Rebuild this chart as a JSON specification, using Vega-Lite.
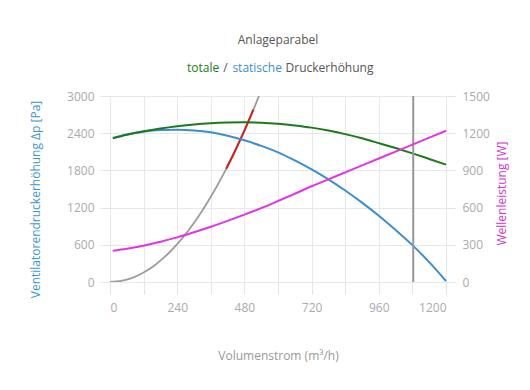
{
  "$schema": "https://vega.github.io/schema/vega-lite/v6.json",
  "width": 336,
  "height": 186,
  "autosize": {"type": "none"},
  "padding": {"left": 110, "top": 96, "right": 84, "bottom": 108},
  "background": "white",
  "title": {
    "text": "Anlageparabel",
    "frame": "group",
    "anchor": "middle",
    "baseline": "alphabetic",
    "offset": 6,
    "font": "Open Sans",
    "fontSize": 12,
    "fontWeight": "normal",
    "color": "#555555"
  },
  "datasets": {
    "statische": [
      {"q": 10, "dp": 2320}, {"q": 60, "dp": 2380}, {"q": 120, "dp": 2425}, {"q": 180, "dp": 2450},
      {"q": 240, "dp": 2455}, {"q": 300, "dp": 2445}, {"q": 360, "dp": 2415}, {"q": 420, "dp": 2360},
      {"q": 480, "dp": 2285}, {"q": 540, "dp": 2195}, {"q": 600, "dp": 2090}, {"q": 660, "dp": 1960},
      {"q": 720, "dp": 1815}, {"q": 780, "dp": 1655}, {"q": 840, "dp": 1475}, {"q": 900, "dp": 1280},
      {"q": 960, "dp": 1070}, {"q": 1020, "dp": 840}, {"q": 1080, "dp": 595}, {"q": 1140, "dp": 320},
      {"q": 1200, "dp": 15}
    ],
    "totale": [
      {"q": 10, "dp": 2320}, {"q": 60, "dp": 2375}, {"q": 120, "dp": 2430}, {"q": 180, "dp": 2475},
      {"q": 240, "dp": 2512}, {"q": 300, "dp": 2542}, {"q": 360, "dp": 2562}, {"q": 420, "dp": 2573},
      {"q": 480, "dp": 2577}, {"q": 540, "dp": 2570}, {"q": 600, "dp": 2552}, {"q": 660, "dp": 2525},
      {"q": 720, "dp": 2490}, {"q": 780, "dp": 2442}, {"q": 840, "dp": 2385}, {"q": 900, "dp": 2318},
      {"q": 960, "dp": 2240}, {"q": 1020, "dp": 2160}, {"q": 1080, "dp": 2075}, {"q": 1140, "dp": 1985},
      {"q": 1200, "dp": 1893}
    ],
    "leistung": [
      {"q": 10, "p": 252}, {"q": 60, "p": 268}, {"q": 120, "p": 293}, {"q": 180, "p": 325},
      {"q": 240, "p": 360}, {"q": 300, "p": 401}, {"q": 360, "p": 446}, {"q": 420, "p": 493},
      {"q": 480, "p": 543}, {"q": 540, "p": 596}, {"q": 600, "p": 653}, {"q": 660, "p": 712},
      {"q": 720, "p": 772}, {"q": 780, "p": 828}, {"q": 840, "p": 884}, {"q": 900, "p": 940},
      {"q": 960, "p": 996}, {"q": 1020, "p": 1052}, {"q": 1080, "p": 1108}, {"q": 1140, "p": 1164},
      {"q": 1200, "p": 1220}
    ],
    "anlage": [
      {"q": 0, "dp": 0}, {"q": 40, "dp": 17}, {"q": 80, "dp": 68}, {"q": 120, "dp": 153},
      {"q": 160, "dp": 271}, {"q": 200, "dp": 424}, {"q": 240, "dp": 611}, {"q": 280, "dp": 831},
      {"q": 320, "dp": 1085}, {"q": 360, "dp": 1374}, {"q": 400, "dp": 1696}, {"q": 440, "dp": 2052},
      {"q": 480, "dp": 2442}, {"q": 520, "dp": 2866}, {"q": 532, "dp": 3000}
    ],
    "bereich": [
      {"q": 415, "dp": 1826}, {"q": 440, "dp": 2052}, {"q": 460, "dp": 2243},
      {"q": 480, "dp": 2442}, {"q": 500, "dp": 2650}, {"q": 512, "dp": 2779}
    ],
    "betriebspunkt": [{"q": 1083}],
    "kopf": [{"w": "totale"}, {"w": "/"}, {"w": "statische"}, {"w": "Druckerhöhung"}]
  },
  "layer": [
    {
      "layer": [
        {
          "data": {"name": "anlage"},
          "mark": {"type": "line", "color": "#9c9c9c", "strokeWidth": 1.8, "interpolate": "monotone", "clip": true},
          "encoding": {
            "x": {
              "field": "q", "type": "quantitative",
              "scale": {"domain": [0, 1200], "nice": false},
              "axis": {
                "values": [0, 120, 240, 360, 480, 600, 720, 840, 960, 1080, 1200],
                "tickCount": 20,
                "format": "d",
                "labelExpr": "datum.value % 240 == 0 ? datum.label : ''",
                "labelOverlap": false,
                "title": "Volumenstrom (m³/h)",
                "titlePadding": 37,
                "tickSize": 12,
                "labelPadding": 8
              }
            },
            "y": {
              "field": "dp", "type": "quantitative",
              "scale": {"domain": [0, 3000], "nice": false},
              "axis": {
                "values": [0, 600, 1200, 1800, 2400, 3000],
                "tickCount": 20,
                "format": "d",
                "labelOverlap": false,
                "title": "Ventilatorendruckerhöhung Δp [Pa]",
                "titleColor": "#3d97cf",
                "titlePadding": 24,
                "titleY": 103,
                "tickSize": 10,
                "labelPadding": 6
              }
            }
          }
        },
        {
          "data": {"name": "bereich"},
          "mark": {"type": "line", "color": "#d11f1f", "strokeWidth": 2, "interpolate": "monotone"},
          "encoding": {
            "x": {"field": "q", "type": "quantitative"},
            "y": {"field": "dp", "type": "quantitative"}
          }
        },
        {
          "data": {"name": "statische"},
          "mark": {"type": "line", "color": "#3a8fd0", "strokeWidth": 2, "interpolate": "monotone"},
          "encoding": {
            "x": {"field": "q", "type": "quantitative"},
            "y": {"field": "dp", "type": "quantitative"}
          }
        },
        {
          "data": {"name": "totale"},
          "mark": {"type": "line", "color": "#1b7a1b", "strokeWidth": 2, "interpolate": "monotone"},
          "encoding": {
            "x": {"field": "q", "type": "quantitative"},
            "y": {"field": "dp", "type": "quantitative"}
          }
        },
        {
          "data": {"name": "betriebspunkt"},
          "mark": {"type": "rule", "color": "#999999", "strokeWidth": 2},
          "encoding": {
            "x": {"field": "q", "type": "quantitative"}
          }
        },
        {
          "data": {"name": "kopf"},
          "mark": {"type": "point", "opacity": 0, "size": 0, "strokeWidth": 0},
          "encoding": {
            "color": {
              "field": "w", "type": "nominal", "sort": null,
              "scale": {"domain": ["totale", "/", "statische", "Druckerhöhung"], "range": ["#1b7a1b", "#555555", "#3a8fd0", "#555555"]},
              "legend": {
                "orient": "none",
                "legendX": 77,
                "legendY": -34,
                "direction": "horizontal",
                "title": null,
                "labelFont": "Open Sans",
                "labelFontSize": 12,
                "labelColor": {"expr": "datum.value == 'totale' ? '#1b7a1b' : (datum.value == 'statische' ? '#3a8fd0' : '#555555')"},
                "labelOffset": -12,
                "symbolSize": 0,
                "symbolOpacity": 0,
                "symbolStrokeWidth": 0,
                "columnPadding": 3.2,
                "padding": 0
              }
            }
          }
        }
      ]
    },
    {
      "data": {"name": "leistung"},
      "mark": {"type": "line", "color": "#e234e2", "strokeWidth": 2, "interpolate": "monotone"},
      "encoding": {
        "x": {"field": "q", "type": "quantitative"},
        "y": {
          "field": "p", "type": "quantitative",
          "scale": {"domain": [0, 1500], "nice": false},
          "axis": {
            "orient": "right",
            "values": [0, 300, 600, 900, 1200, 1500],
            "tickCount": 20,
            "format": "d",
            "labelOverlap": false,
            "grid": false,
            "title": "Wellenleistung [W]",
            "titleColor": "#cc33cc",
            "titleAngle": 270,
            "titlePadding": 19,
            "titleY": 97,
            "tickSize": 9,
            "labelPadding": 7
          }
        }
      }
    }
  ],
  "resolve": {"scale": {"y": "independent"}},
  "config": {
    "view": {"stroke": null},
    "font": "Open Sans",
    "axis": {
      "domain": false,
      "gridColor": "#e8e8e8",
      "gridWidth": 1,
      "tickColor": "#e4e4e4",
      "labelColor": "#aaaaaa",
      "labelFont": "Open Sans",
      "labelFontSize": 12,
      "titleFont": "Open Sans",
      "titleFontSize": 12,
      "titleFontWeight": "normal",
      "titleColor": "#999999"
    }
  }
}
